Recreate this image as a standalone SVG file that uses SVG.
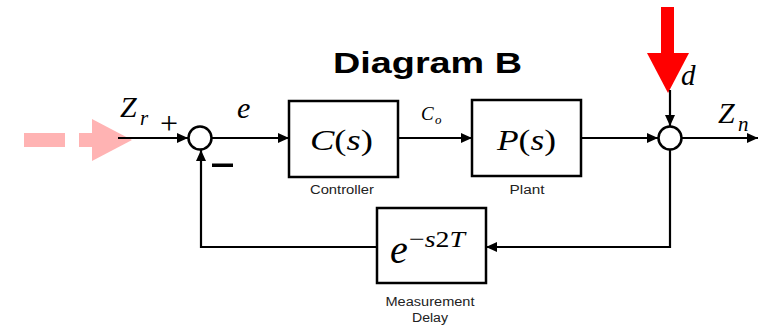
<svg xmlns="http://www.w3.org/2000/svg" width="762" height="325" viewBox="0 0 762 325">
<defs>
<style>
.blk{fill:#fff;stroke:#000;stroke-width:2.5}
.ln{fill:none;stroke:#000;stroke-width:2.2}
.m{font-family:"Liberation Serif",serif;font-style:italic;fill:#000}
.up{font-style:normal}
.lbl{font-family:"Liberation Sans",Arial,sans-serif;font-size:12px;fill:#222;text-anchor:middle}
</style>
<marker id="ah" markerWidth="12" markerHeight="10" refX="11" refY="5" orient="auto" markerUnits="userSpaceOnUse"><path d="M0,0 L11,5 L0,10 z" fill="#000"/></marker>
</defs>
<rect width="762" height="325" fill="#fff"/>
<text x="333" y="73" font-family="Liberation Sans,Arial,sans-serif" font-weight="bold" font-size="29" textLength="189" lengthAdjust="spacingAndGlyphs">Diagram B</text>
<g id="input-arrow">
<rect x="24" y="133" width="41" height="14" fill="#ffb3b3"/>
<rect x="79" y="133" width="14" height="14" fill="#ffb3b3"/>
<polygon points="92,119 132,140 92,161" fill="#ffb3b3"/>
</g>
<g id="disturbance-arrow">
<rect x="661" y="7" width="13" height="47" fill="#ff0000"/>
<polygon points="647,53 689,53 668,93" fill="#ff0000"/>
</g>
<g id="connectors">
<line class="ln" x1="118" y1="138" x2="188" y2="138" marker-end="url(#ah)"/>
<line class="ln" x1="212" y1="138" x2="289" y2="138" marker-end="url(#ah)"/>
<line class="ln" x1="398" y1="138" x2="472" y2="138" marker-end="url(#ah)"/>
<line class="ln" x1="581" y1="138" x2="658" y2="138" marker-end="url(#ah)"/>
<line class="ln" x1="682" y1="138" x2="758" y2="138" marker-end="url(#ah)"/>
<line class="ln" x1="670" y1="90" x2="670" y2="126" marker-end="url(#ah)"/>
<polyline class="ln" points="670,150 670,247 486,247" marker-end="url(#ah)"/>
<polyline class="ln" points="377,247 201,247 201,150" marker-end="url(#ah)"/>
</g>
<g id="sum1">
<circle class="blk" cx="200" cy="138" r="11.5"/>
<text x="169" y="134" font-family="Liberation Serif,serif" font-size="32" text-anchor="middle">+</text>
<rect x="212" y="163.5" width="21" height="3.5" fill="#000"/>
</g>
<g id="sum2">
<circle class="blk" cx="670" cy="138" r="11.5"/>
</g>
<g id="controller">
<rect class="blk" x="289" y="101" width="109" height="76"/>
<text class="m" x="310" y="150" font-size="30" textLength="63" lengthAdjust="spacingAndGlyphs">C<tspan class="up">(</tspan>s<tspan class="up">)</tspan></text>
<text class="lbl" x="342" y="194" textLength="64" lengthAdjust="spacingAndGlyphs">Controller</text>
</g>
<g id="plant">
<rect class="blk" x="472" y="100" width="109" height="76"/>
<text class="m" x="497" y="150" font-size="30" textLength="59" lengthAdjust="spacingAndGlyphs">P<tspan class="up">(</tspan>s<tspan class="up">)</tspan></text>
<text class="lbl" x="527" y="194" textLength="35" lengthAdjust="spacingAndGlyphs">Plant</text>
</g>
<g id="delay">
<rect class="blk" x="377" y="208" width="109" height="75"/>
<text class="m" x="390" y="263" font-size="40">e</text>
<text class="m" x="409" y="247" font-size="24" textLength="56" lengthAdjust="spacingAndGlyphs"><tspan class="up">−</tspan>s<tspan class="up">2</tspan>T</text>
<text class="lbl" x="430" y="306" textLength="89" lengthAdjust="spacingAndGlyphs">Measurement</text>
<text class="lbl" x="430" y="322" textLength="36" lengthAdjust="spacingAndGlyphs">Delay</text>
</g>
<g id="labels">
<text class="m" x="120" y="117" font-size="30">Z</text>
<text class="m" x="140" y="125" font-size="21">r</text>
<text class="m" x="237" y="118" font-size="30">e</text>
<text class="m" x="421" y="120" font-size="19">C</text>
<text class="m" x="435" y="124" font-size="13">o</text>
<text class="m" x="681" y="85" font-size="29">d</text>
<text class="m" x="718" y="123" font-size="30">Z</text>
<text class="m" x="738" y="131" font-size="21">n</text>
</g>
</svg>
